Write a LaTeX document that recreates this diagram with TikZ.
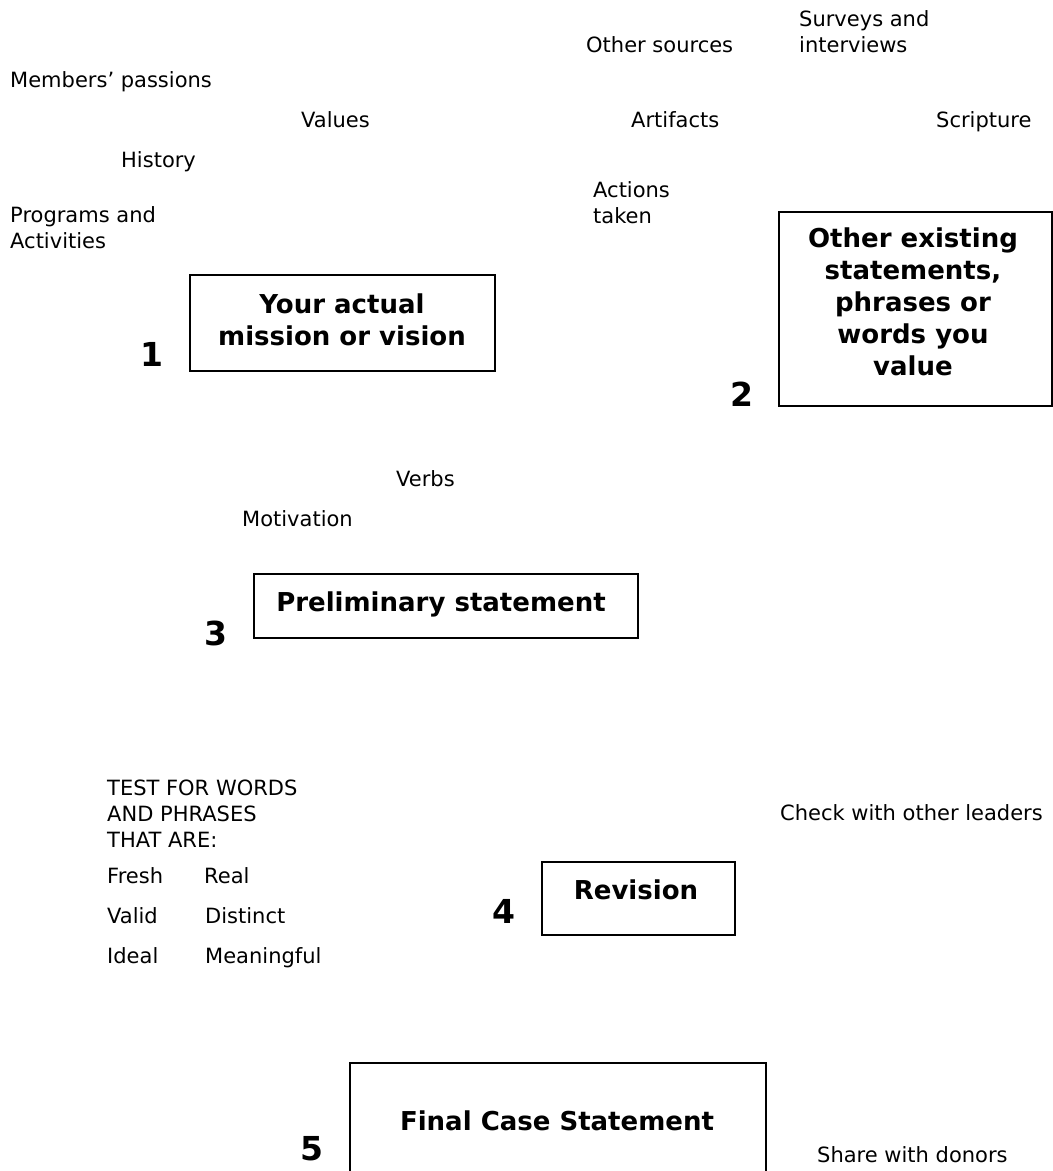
\documentclass[tikz,border=0pt]{standalone}
\usepackage{fontspec}
\setmainfont{DejaVu Sans}
\begin{document}
\begin{tikzpicture}[x=1pt,y=-1pt,
  lbl/.style={anchor=base west,inner sep=0pt,font=\fontsize{21}{26}\selectfont},
  btxt/.style={anchor=base,inner sep=0pt,font=\fontsize{26}{32}\bfseries\selectfont},
  num/.style={anchor=base,inner sep=0pt,font=\fontsize{33}{40}\bfseries\selectfont},
  box/.style={draw=black,line width=1.5pt,anchor=north west,inner sep=0pt}]
\useasboundingbox (0,0) rectangle (1053,1171);
\clip (0,0) rectangle (1053,1171);
% top labels
\node[lbl] (os) at (586,52) {Other sources};
\node[lbl] (si) at (799,26) {\begin{tabular}[t]{@{}l@{}}Surveys and\\interviews\end{tabular}};
\node[lbl] (mp) at (10,87) {Members’ passions};
\node[lbl] (va) at (301,127) {Values};
\node[lbl] (ar) at (631,127) {Artifacts};
\node[lbl] (sc) at (936,127) {Scripture};
\node[lbl] (hi) at (121,167) {History};
\node[lbl] (at) at (593,197) {\begin{tabular}[t]{@{}l@{}}Actions\\taken\end{tabular}};
\node[lbl] (pa) at (10,222) {\begin{tabular}[t]{@{}l@{}}Programs and\\Activities\end{tabular}};
% box 1
\node[box,minimum width=305pt,minimum height=96pt] (b1) at (189,274) {};
\node[btxt] (b1t) at (342,313) {\begin{tabular}[t]{@{}c@{}}Your actual\\mission or vision\end{tabular}};
\node[num] (n1) at (152,366) {1};
% box 2
\node[box,minimum width=273pt,minimum height=194pt] (b2) at (778,211) {};
\node[btxt] (b2t) at (913,247) {\begin{tabular}[t]{@{}c@{}}Other existing\\statements,\\phrases or\\words you\\value\end{tabular}};
\node[num] (n2) at (742,406) {2};
% middle labels
\node[lbl] (vb) at (396,486) {Verbs};
\node[lbl] (mo) at (242,526) {Motivation};
% box 3
\node[box,minimum width=384pt,minimum height=64pt] (b3) at (253,573) {};
\node[btxt] (b3t) at (441,611) {Preliminary statement};
\node[num] (n3) at (216,645) {3};
% test block
\node[lbl] (tw) at (107,795) {\begin{tabular}[t]{@{}l@{}}TEST FOR WORDS\\AND PHRASES\\THAT ARE:\end{tabular}};
\node[lbl] (fr) at (107,883) {Fresh};
\node[lbl] (re) at (204,883) {Real};
\node[lbl] (vl) at (107,923) {Valid};
\node[lbl] (di) at (205,923) {Distinct};
\node[lbl] (id) at (107,963) {Ideal};
\node[lbl] (me) at (205,963) {Meaningful};
\node[lbl] (cl) at (780,820) {Check with other leaders};
% box 4
\node[box,minimum width=193pt,minimum height=73pt] (b4) at (541,861) {};
\node[btxt] (b4t) at (636,899) {Revision};
\node[num] (n4) at (504,923) {4};
% box 5
\node[box,minimum width=416pt,minimum height=140pt] (b5) at (349,1062) {};
\node[btxt] (b5t) at (557,1130) {Final Case Statement};
\node[num] (n5) at (312,1160) {5};
\node[lbl] (sd) at (817,1162) {Share with donors};
\end{tikzpicture}
\end{document}
